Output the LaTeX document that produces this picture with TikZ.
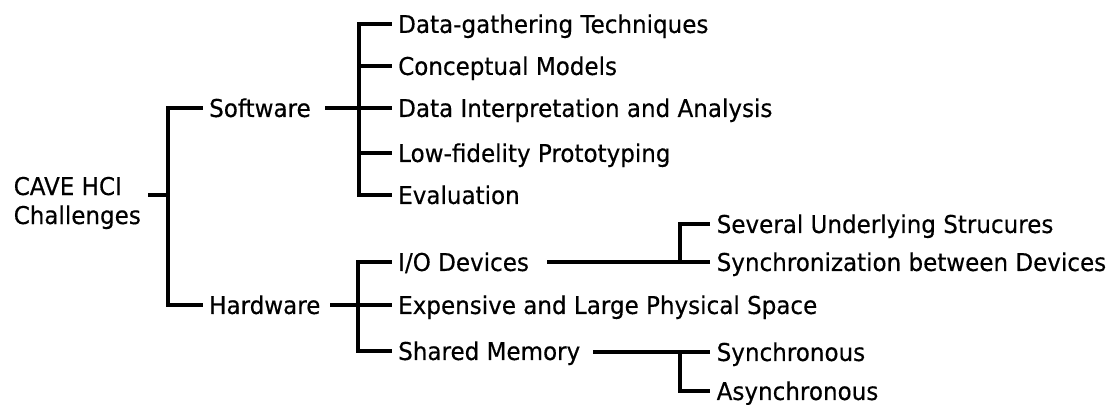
\documentclass[tikz,border=0pt]{standalone}
\usepackage{fontspec}
\setmainfont{DejaVu Sans}[FakeStretch=0.94, FakeBold=0.4]
\begin{document}
\begin{tikzpicture}[x=1pt, y=-1pt,
  conn/.style={line width=3.2pt, line join=miter, line cap=rect},
  item/.style={anchor=west, inner xsep=8pt, inner ysep=0pt,
    text height=17.9pt, text depth=0pt,
    font=\fontsize{24.5}{29}\selectfont},
  rootbox/.style={anchor=base west, inner sep=0pt, align=left,
    font=\fontsize{24.5}{29}\selectfont}]
\useasboundingbox (0,0) rectangle (1115,404);

% root (anchored at the baseline of its last line)
\node[rootbox] (root) at (13.5,224) {CAVE HCI\\Challenges};
\coordinate (j0) at (168,195);

% first level
\node[item] (sw) at (201,108) {Software};
\node[item] (hw) at (201,305) {Hardware};

% software branch
\coordinate (j1) at (359,108);
\node[item] (s1) at (390,24) {Data-gathering Techniques};
\node[item] (s2) at (390,66) {Conceptual Models};
\node[item] (s3) at (390,108) {Data Interpretation and Analysis};
\node[item] (s4) at (390,153) {Low-fidelity Prototyping};
\node[item] (s5) at (390,195) {Evaluation};

% hardware branch
\coordinate (j2) at (358,305);
\node[item] (h1) at (390,262) {I/O Devices};
\node[item] (h2) at (390,305) {Expensive and Large Physical Space};
\node[item] (h3) at (390,351) {Shared Memory};

% I/O devices
\coordinate (j3) at (680,262);
\node[item] (io1) at (708.5,224) {Several Underlying Strucures};
\node[item] (io2) at (708.5,262) {Synchronization between Devices};

% shared memory
\coordinate (j4) at (680,352);
\node[item] (sm1) at (708.5,352) {Synchronous};
\node[item] (sm2) at (708.5,391) {Asynchronous};

% connectors
\draw[conn] ([xshift=9pt]root.east |- j0) -- (j0);
\draw[conn] (sw.west) -| (j0) |- (hw.west);

\draw[conn] ([xshift=8pt]sw.east) -- (j1);
\draw[conn] (s1.west) -| (j1) |- (s5.west);
\draw[conn] (j1 |- s2.west) -- (s2.west);
\draw[conn] (j1) -- (s3.west);
\draw[conn] (j1 |- s4.west) -- (s4.west);

\draw[conn] ([xshift=3pt]hw.east) -- (j2);
\draw[conn] (h1.west) -| (j2) |- (h3.west);
\draw[conn] (j2) -- (h2.west);

\draw[conn] ([xshift=11pt]h1.east) -- (j3);
\draw[conn] (io1.west) -| (j3) -- (io2.west);

\draw[conn] ([xshift=6pt]h3.east |- j4) -- (j4) -- (sm1.west);
\draw[conn] (j4) |- (sm2.west);
\end{tikzpicture}
\end{document}
